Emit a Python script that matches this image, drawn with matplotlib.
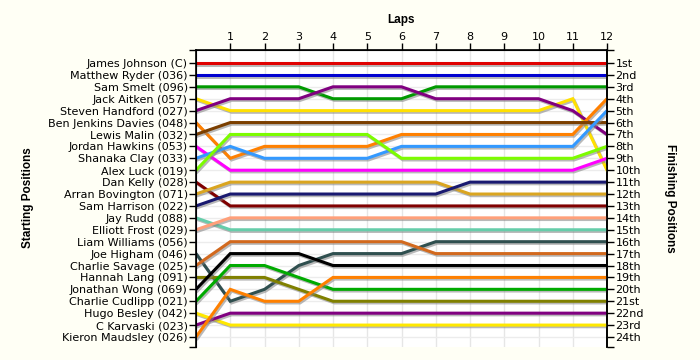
import matplotlib
matplotlib.use("Agg")
import matplotlib.pyplot as plt
import matplotlib.patheffects as pe

plt.rcParams["font.family"] = ["DejaVu Sans"]

# Lap numbers (0 = grid)
laps = list(range(13))

# Drivers in starting order
drivers = [
    "James Johnson (C)", "Matthew Ryder (036)", "Sam Smelt (096)", "Jack Aitken (057)",
    "Steven Handford (027)", "Ben Jenkins Davies (048)", "Lewis Malin (032)",
    "Jordan Hawkins (053)", "Shanaka Clay (033)", "Alex Luck (019)", "Dan Kelly (028)",
    "Arran Bovington (071)", "Sam Harrison (022)", "Jay Rudd (088)", "Elliott Frost (029)",
    "Liam Williams (056)", "Joe Higham (046)", "Charlie Savage (025)", "Hannah Lang (091)",
    "Jonathan Wong (069)", "Charlie Cudlipp (021)", "Hugo Besley (042)", "C Karvaski (023)",
    "Kieron Maudsley (026)",
]

colors = [
    "#E00000", "#0000D0", "#009900", "#FFE000", "#800080", "#FF8000", "#7B3F00",
    "#FF00FF", "#3399FF", "#7CFC00", "#800000", "#DAA520", "#191970", "#66CDAA",
    "#FFA07A", None, "#2F4F4F", "#D2691E", "#808000", "#000000", "#00AA00",
    "#FFE800", "#800080", "#FF8000",
]

# Position at each lap (index 0 = starting grid); None = no lap data
positions = [
    [1, 1, 1, 1, 1, 1, 1, 1, 1, 1, 1, 1, 1],
    [2, 2, 2, 2, 2, 2, 2, 2, 2, 2, 2, 2, 2],
    [3, 3, 3, 3, 4, 4, 4, 3, 3, 3, 3, 3, 3],
    [4, 5, 5, 5, 5, 5, 5, 5, 5, 5, 5, 4, 10],
    [5, 4, 4, 4, 3, 3, 3, 4, 4, 4, 4, 5, 7],
    [6, 9, 8, 8, 8, 8, 7, 7, 7, 7, 7, 7, 4],
    [7, 6, 6, 6, 6, 6, 6, 6, 6, 6, 6, 6, 6],
    [8, 10, 10, 10, 10, 10, 10, 10, 10, 10, 10, 10, 9],
    [9, 8, 9, 9, 9, 9, 8, 8, 8, 8, 8, 8, 5],
    [10, 7, 7, 7, 7, 7, 9, 9, 9, 9, 9, 9, 8],
    [11, 13, 13, 13, 13, 13, 13, 13, 13, 13, 13, 13, 13],
    [12, 11, 11, 11, 11, 11, 11, 11, 12, 12, 12, 12, 12],
    [13, 12, 12, 12, 12, 12, 12, 12, 11, 11, 11, 11, 11],
    [14, 15, 15, 15, 15, 15, 15, 15, 15, 15, 15, 15, 15],
    [15, 14, 14, 14, 14, 14, 14, 14, 14, 14, 14, 14, 14],
    None,
    [17, 21, 20, 18, 17, 17, 17, 16, 16, 16, 16, 16, 16],
    [18, 16, 16, 16, 16, 16, 16, 17, 17, 17, 17, 17, 17],
    [19, 19, 19, 20, 21, 21, 21, 21, 21, 21, 21, 21, 21],
    [20, 17, 17, 17, 18, 18, 18, 18, 18, 18, 18, 18, 18],
    [21, 18, 18, 19, 20, 20, 20, 20, 20, 20, 20, 20, 20],
    [22, 23, 23, 23, 23, 23, 23, 23, 23, 23, 23, 23, 23],
    [23, 22, 22, 22, 22, 22, 22, 22, 22, 22, 22, 22, 22],
    [24, 20, 21, 21, 19, 19, 19, 19, 19, 19, 19, 19, 19],
]

finish_labels = [
    "1st", "2nd", "3rd", "4th", "5th", "6th", "7th", "8th", "9th", "10th", "11th", "12th",
    "13th", "14th", "15th", "16th", "17th", "18th", "19th", "20th", "21st", "22nd", "23rd",
    "24th",
]

bg = "#FFFFF5"
fig = plt.figure(figsize=(7, 3.6), dpi=100, facecolor=bg)
ax = fig.add_axes([196 / 700, 1 - 347 / 360, 411 / 700, 297 / 360])
ax.set_facecolor("white")

y_top, y_bot = -0.09, 24.84
ax.set_xlim(0, 12)
ax.set_ylim(y_bot, y_top)

# light grid
for lap in laps[1:]:
    ax.axvline(lap, color="#E6E6E6", lw=1, zorder=0)
for row in range(1, 25):
    ax.axhline(row, color="#ECECEC", lw=1, zorder=0)

shadow = [pe.SimpleLineShadow(offset=(1, -1.2), shadow_color="#808080", alpha=0.55),
          pe.Normal()]

for pos, col in zip(positions, colors):
    if pos is None:
        continue
    ax.plot(laps, pos, color=col, lw=2.2, solid_joinstyle="miter",
            path_effects=shadow, zorder=3)

# axes / ticks
ax.spines["bottom"].set_visible(False)
for side in ["top", "left", "right"]:
    ax.spines[side].set_linewidth(1.2)

ax.xaxis.tick_top()
ax.set_xticks(laps[1:])
ax.set_xticklabels([str(l) for l in laps[1:]], fontsize=8)
ax.tick_params(axis="x", length=5, width=1, pad=1)

left_ticks = [y_top] + list(range(1, 25)) + [y_bot]
ax.set_yticks(left_ticks)
ax.set_yticklabels([""] + drivers + [""], fontsize=8)
ax.tick_params(axis="y", length=5, width=1, pad=1)

ax2 = ax.twinx()
ax2.set_ylim(y_bot, y_top)
ax2.set_yticks(left_ticks)
ax2.set_yticklabels([""] + finish_labels + [""], fontsize=8)
ax2.tick_params(axis="y", length=5, width=1, pad=1)
ax2.spines["bottom"].set_visible(False)
ax2.spines["right"].set_linewidth(1.2)

title_font = dict(family=["Liberation Sans", "DejaVu Sans"], fontsize=8.5, fontweight="bold")
ax.set_xlabel("Laps", labelpad=6, **title_font)
ax.xaxis.set_label_position("top")
fig.text(28 / 700, 1 - 198 / 360, "Starting Positions", rotation=90,
         ha="center", va="center", **title_font)
fig.text(670 / 700, 1 - 198 / 360, "Finishing Positions", rotation=-90,
         ha="center", va="center", **title_font)

fig.savefig("out.png", dpi=100, facecolor=bg)
